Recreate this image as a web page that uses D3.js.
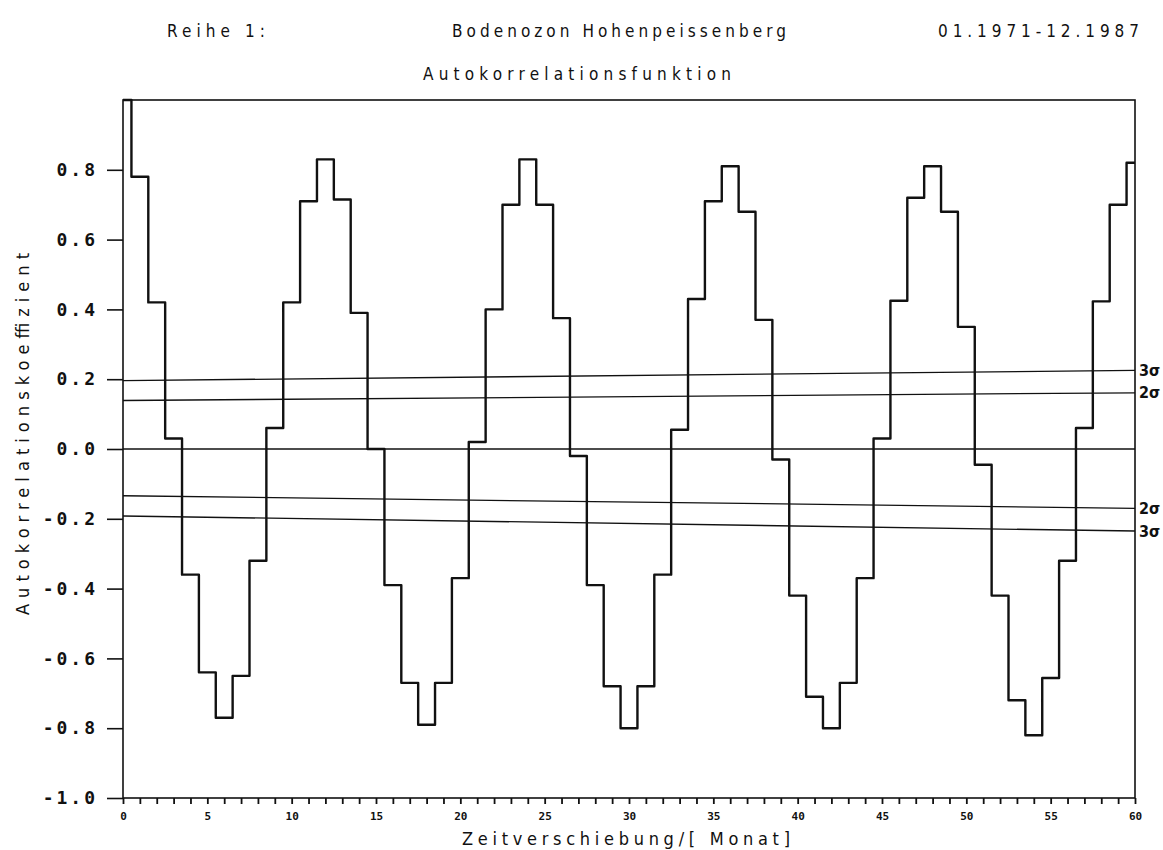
<!DOCTYPE html>
<html>
<head>
<meta charset="utf-8">
<script src="https://cdn.jsdelivr.net/npm/d3@7"></script>
<style>
  body { margin: 0; background: #fff; }
  svg text { font-family: "DejaVu Sans Condensed", "DejaVu Sans", sans-serif; fill: #111; }
</style>
</head>
<body>
<svg id="chart" width="1163" height="850"></svg>
<script>
// autocorrelation coefficients, lag 0..60 months
const acf = [
  1.00, 0.78, 0.42, 0.03, -0.36, -0.64, -0.77, -0.65, -0.32, 0.06,
  0.42, 0.71, 0.83, 0.715, 0.39, 0.00, -0.39, -0.67, -0.79, -0.67,
  -0.37, 0.02, 0.40, 0.70, 0.83, 0.70, 0.375, -0.02, -0.39, -0.68,
  -0.80, -0.68, -0.36, 0.055, 0.43, 0.71, 0.81, 0.68, 0.37, -0.03,
  -0.42, -0.71, -0.80, -0.67, -0.37, 0.03, 0.425, 0.72, 0.81, 0.68,
  0.35, -0.045, -0.42, -0.72, -0.82, -0.656, -0.32, 0.06, 0.423, 0.70,
  0.82
];

// significance bounds, value at lag 0 and at lag 60
const sigmaLabels = ["3σ", "2σ", "2σ", "3σ"];
const sigmaStart = [0.196, 0.139, -0.134, -0.192];
const sigmaEnd = [0.225, 0.161, -0.170, -0.235];
const sigmaLags = [0, 60];

const yTicks = [-1.0, -0.8, -0.6, -0.4, -0.2, 0.0, 0.2, 0.4, 0.6, 0.8];
const xLabelTicks = [0, 5, 10, 15, 20, 25, 30, 35, 40, 45, 50, 55, 60];

const margin = { top: 100, right: 28, bottom: 52, left: 123 };
const width = 1163;
const height = 850;

const svg = d3.select("#chart");

const x = d3.scaleLinear()
  .domain([0, 60])
  .range([margin.left, width - margin.right]);

const y = d3.scaleLinear()
  .domain([-1, 1])
  .range([height - margin.bottom, margin.top]);

// frame
svg.append("rect")
  .attr("x", x(0))
  .attr("y", y(1))
  .attr("width", x(60) - x(0))
  .attr("height", y(-1) - y(1))
  .attr("fill", "none")
  .attr("stroke", "#111")
  .attr("stroke-width", 1.6);

// y axis
const yAxis = svg.append("g")
  .attr("transform", `translate(${x(0)},0)`)
  .call(d3.axisLeft(y)
    .tickValues(yTicks)
    .tickSize(16)
    .tickPadding(9)
    .tickFormat(d => d.toFixed(1)));
yAxis.select(".domain").remove();
yAxis.selectAll("line").attr("stroke", "#111").attr("stroke-width", 1.6);
yAxis.selectAll("text")
  .style("font-family", '"DejaVu Sans Mono", monospace')
  .style("font-size", "18px")
  .style("font-weight", "bold")
  .style("letter-spacing", "3px")
  .attr("fill", "#111");

// x axis, minor ticks every month
const xAxis = svg.append("g")
  .attr("transform", `translate(0,${y(-1)})`)
  .call(d3.axisBottom(x)
    .ticks(60)
    .tickSize(6)
    .tickPadding(8)
    .tickFormat(d => xLabelTicks.includes(d) ? d : ""));
xAxis.select(".domain").remove();
xAxis.selectAll("line").attr("stroke", "#111").attr("stroke-width", 1.8);
xAxis.selectAll("text")
  .style("font-family", '"DejaVu Sans Mono", monospace')
  .style("font-size", "11px")
  .style("font-weight", "bold")
  .attr("fill", "#111");

// zero line
svg.append("line")
  .attr("x1", x(0)).attr("x2", x(60))
  .attr("y1", y(0)).attr("y2", y(0))
  .attr("stroke", "#111")
  .attr("stroke-width", 1.4);

// sigma lines
sigmaLabels.forEach((lab, i) => {
  svg.append("line")
    .attr("x1", x(sigmaLags[0])).attr("x2", x(sigmaLags[1]))
    .attr("y1", y(sigmaStart[i])).attr("y2", y(sigmaEnd[i]))
    .attr("stroke", "#111")
    .attr("stroke-width", 1.3);
  svg.append("text")
    .attr("x", x(sigmaLags[1]) + 4)
    .attr("y", y(sigmaEnd[i]))
    .attr("dy", "0.35em")
    .style("font-size", "16px")
    .style("font-weight", "bold")
    .text(lab);
});

// step curve
const line = d3.line()
  .x((d, i) => x(i))
  .y(d => y(d))
  .curve(d3.curveStep);

svg.append("path")
  .datum(acf)
  .attr("d", line)
  .attr("fill", "none")
  .attr("stroke", "#111")
  .attr("stroke-width", 2.4)
  .attr("stroke-linejoin", "round");

// titles, stretched to the plotter text widths
function label(txt, x0, y0, len, size) {
  return svg.append("text")
    .attr("x", x0).attr("y", y0)
    .attr("textLength", len)
    .attr("lengthAdjust", "spacing")
    .style("font-size", size + "px")
    .text(txt);
}

label("Reihe 1:", 167, 37, 98, 17);
label("Bodenozon Hohenpeissenberg", 452, 37, 334, 17);
label("01.1971-12.1987", 938, 37, 201, 17);
label("Autokorrelationsfunktion", 423, 80, 308, 17);
label("Zeitverschiebung/[ Monat]", 462, 845, 328, 18);

svg.append("text")
  .attr("transform", "translate(29,615) rotate(-90)")
  .attr("textLength", 362)
  .attr("lengthAdjust", "spacing")
  .style("font-size", "18px")
  .text("Autokorrelationskoeffizient");
</script>
</body>
</html>
